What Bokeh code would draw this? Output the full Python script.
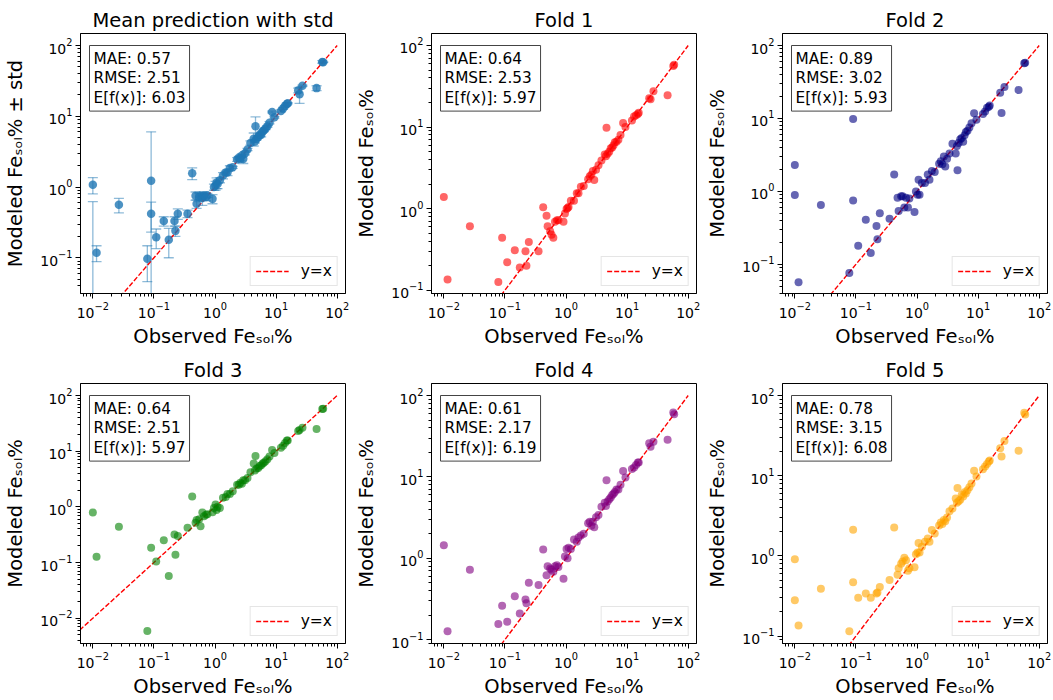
import numpy as np
from bokeh.plotting import figure
from bokeh.layouts import gridplot
from bokeh.models import (Range1d, Label, Whisker, TeeHead, ColumnDataSource,
                          FixedTicker, LogTickFormatter, Legend, LegendItem)
from bokeh.embed import file_html
from bokeh.resources import INLINE

FONT = "DejaVu Sans"
NA = float("nan")

# Observed Fe solubility (%) shared by every panel
observed = [
    0.010, 0.010, 0.0115, 0.0267, 0.078, 0.090, 0.090, 0.109, 0.145, 0.175,
    0.217, 0.225, 0.246, 0.355, 0.423, 0.48, 0.50,
    0.55, 0.58, 0.62, 0.66, 0.71, 0.75, 0.91, 0.96, 1.02, 1.06, 1.10, 1.20,
    1.35, 1.50, 1.60, 1.75, 1.95, 2.30, 2.45, 2.60, 2.75, 2.90, 3.10, 3.40,
    3.80, 4.30, 4.50, 4.60, 4.80, 5.10, 5.40, 5.70, 6.00, 6.30, 6.70, 7.20,
    7.80, 8.60, 9.40,
    12.0, 13.0, 14.0, 15.0, 15.5, 23.0, 24.2, 27.0, 46.0, 57.0, 59.0,
]

# Mean of the fold predictions and its standard deviation
mean_pred = [
    1.08, 0.02, 0.118, 0.56, 0.097, 1.23, 0.42, 0.195, 0.33, 0.18,
    0.33, 0.24, 0.42, 0.42, 1.57, 0.75, 0.58,
    0.72, 0.74, 0.70, 0.75, 0.72, 0.76, 0.68, 1.00, 1.05, 1.15, 1.10, 1.25,
    1.45, 1.60, 1.60, 1.85, 1.90, 2.45, 2.60, 2.50, 2.80, 2.50, 3.00, 3.40,
    4.20, 4.80, 4.40, 7.20, 4.80, 5.10, 5.50, 5.50, 6.10, 6.30, 6.70, 7.20,
    8.10, 11.5, 9.70,
    11.9, 12.9, 14.0, 14.9, 15.3, 23.2, 20.4, 27.0, 25.0, 58.6, 58.2,
]
std_pred = [
    0.28, 0.60, 0.03, 0.13, 0.051, 4.80, 0.19, 0.06, 0.05, 0.08,
    0.05, 0.04, 0.07, 0.05, 0.30, 0.10, 0.08,
    0.10, 0.08, 0.15, 0.10, 0.08, 0.05, 0.10, 0.10, 0.15, 0.20, 0.15, 0.10,
    0.15, 0.08, 0.15, 0.15, 0.06, 0.15, 0.12, 0.15, 0.15, 0.35, 0.15, 0.12,
    0.30, 1.00, 0.20, 2.60, 0.15, 0.15, 0.20, 0.40, 0.15, 0.25, 0.20, 0.20,
    0.30, 0.30, 0.30,
    0.40, 0.40, 0.30, 0.50, 0.30, 1.80, 5.20, 0.50, 2.00, 2.40, 0.50,
]

# Per-fold predictions (NaN where a fold has no prediction for the sample)
fold_1 = [
    1.39, NA, 0.135, 0.61, 0.126, 0.44, NA, 0.22, 0.31, 0.19,
    0.30, 0.20, 0.39, 0.30, 1.04, 0.82, 0.61,
    0.53, 0.48, 0.44, 0.69, 0.72, 0.72, 0.69, 0.87, 0.99, 1.02, 1.05, 1.25,
    1.25, 1.55, 1.55, 1.85, 1.90, 2.30, 2.50, 2.60, 2.90, 2.25, 3.00, 3.40,
    3.90, 4.60, 4.40, 9.80, 4.70, 5.00, 5.50, 5.60, 6.00, 6.50, 6.60, 7.00,
    8.00, 11.2, 10.0,
    12.0, 13.5, 14.0, 14.5, 15.0, 22.5, 22.0, 27.5, 24.6, 56.0, 58.0,
]
fold_2 = [
    2.30, 0.89, 0.057, 0.65, 0.076, 9.80, 0.75, 0.18, 0.41, 0.143,
    0.336, 0.22, 0.50, 0.42, 1.71, 0.82, 0.54,
    0.86, 0.86, 0.60, 0.82, 0.60, 0.80, 0.52, 1.00, 0.90, 1.44, 0.90, 1.30,
    1.30, 1.70, 1.45, 1.90, 1.85, 2.40, 2.60, 2.35, 3.00, 2.20, 2.80, 3.30,
    4.50, 3.30, 4.20, 1.95, 4.60, 5.20, 5.40, 4.80, 5.90, 6.50, 6.80, 7.50,
    8.60, 11.8, 9.60,
    11.5, 12.5, 14.0, 14.5, 15.0, 22.5, 11.9, 27.0, 24.5, 57.0, 58.0,
]
fold_3 = [
    0.79, NA, 0.127, 0.44, 0.0059, 0.185, NA, 0.104, 0.25, 0.057,
    0.32, 0.138, 0.30, 0.42, 1.53, 0.52, 0.58,
    0.60, 0.45, 0.79, 0.68, 0.72, 0.74, 0.80, 0.95, 1.10, 0.88, 1.00, 0.95,
    1.45, 1.50, 1.70, 1.70, 1.90, 2.50, 2.50, 2.70, 2.60, 3.00, 3.00, 3.30,
    4.20, 6.00, 4.50, 8.20, 4.90, 5.00, 5.40, 5.60, 6.00, 6.20, 6.60, 7.20,
    8.00, 10.5, 9.30,
    11.5, 12.5, 14.0, 15.5, 15.5, 23.0, 24.0, 26.5, 25.0, 57.0, 58.0,
]
fold_4 = [
    1.44, NA, 0.127, 0.72, 0.155, 0.26, NA, 0.166, 0.34, 0.21,
    0.31, 0.28, 0.50, 0.47, 1.28, 0.62, 0.80,
    0.75, 0.72, 0.68, 0.80, 0.82, 0.78, 0.56, 1.05, 1.30, 1.00, 1.35, 1.30,
    1.70, 1.60, 1.80, 1.90, 2.00, 2.70, 2.80, 2.50, 2.80, 2.40, 3.20, 3.40,
    4.30, 4.80, 4.40, 9.10, 5.00, 5.30, 5.60, 6.00, 6.20, 6.50, 7.00, 7.00,
    8.00, 11.8, 9.80,
    12.5, 13.0, 14.0, 15.0, 15.0, 26.0, 23.5, 27.0, 28.6, 62.0, 59.0,
]
fold_5 = [
    0.91, 0.28, 0.135, 0.39, 0.115, 2.12, 0.47, 0.30, 0.34, 0.30,
    0.34, 0.35, 0.41, 0.50, 2.26, 0.58, 0.70,
    0.80, 0.85, 0.95, 0.88, 0.65, 0.70, 0.72, 1.05, 1.10, 1.45, 1.10, 1.30,
    1.50, 1.65, 1.50, 2.10, 1.90, 2.40, 2.60, 2.50, 2.80, 2.70, 3.00, 3.60,
    3.90, 5.20, 4.60, 7.00, 4.80, 5.00, 5.80, 5.50, 6.20, 6.00, 6.60, 7.20,
    8.00, 11.5, 9.80,
    12.0, 13.0, 14.0, 15.0, 15.5, 22.0, 17.3, 27.0, 20.5, 61.0, 58.0,
]

panel_titles = ["Mean prediction with std", "Fold 1", "Fold 2",
                "Fold 3", "Fold 4", "Fold 5"]
mae = [0.57, 0.64, 0.89, 0.64, 0.61, 0.78]
rmse = [2.51, 2.53, 3.02, 2.51, 2.17, 3.15]
expected_fx = [6.03, 5.97, 5.93, 5.97, 6.19, 6.08]

identity_line = [0.005, 100.0]

x_label = "Observed Feₛₒₗ%"
y_labels = ["Modeled Feₛₒₗ% ± std"] + ["Modeled Feₛₒₗ%"] * 5

# axis extents (log10)
x_extent = (-2.202, 2.136)
y_extents = [(-1.505, 2.170), (-1.040, 2.147), (-1.400, 2.165),
             (-2.455, 2.216), (-1.048, 2.148), (-1.093, 2.150)]

colors = ["#1f77b4", "red", "navy", "green", "purple", "orange"]
alphas = [0.8, 0.6, 0.6, 0.6, 0.6, 0.6]

major_ticks = [10.0 ** k for k in range(-3, 3)]
minor_ticks = [m * 10.0 ** k for k in range(-3, 3) for m in range(2, 10)]


def make_panel(i, preds):
    y_lo, y_hi = y_extents[i]
    p = figure(width=351, height=350,
               x_axis_type="log", y_axis_type="log",
               x_range=Range1d(10 ** x_extent[0], 10 ** x_extent[1]),
               y_range=Range1d(10 ** y_lo, 10 ** y_hi),
               output_backend="svg", toolbar_location=None,
               min_border_left=80, min_border_right=6,
               min_border_top=33, min_border_bottom=50,
               title=panel_titles[i])
    p.background_fill_color = "white"
    p.border_fill_color = "white"
    p.outline_line_color = "black"
    p.outline_line_alpha = 1.0
    p.outline_line_width = 1
    p.xgrid.visible = False
    p.ygrid.visible = False

    p.title.align = "center"
    p.title.text_font = FONT
    p.title.text_font_size = "19.5px"
    p.title.text_font_style = "normal"
    p.title.text_color = "black"
    p.title.standoff = 3

    for ax in (p.xaxis[0], p.yaxis[0]):
        ax.ticker = FixedTicker(ticks=major_ticks, minor_ticks=minor_ticks)
        ax.formatter = LogTickFormatter()
        ax.axis_line_color = "black"
        ax.major_tick_line_color = "black"
        ax.minor_tick_line_color = "black"
        ax.major_tick_out = 5
        ax.major_tick_in = 0
        ax.minor_tick_out = 3
        ax.minor_tick_in = 0
        ax.major_label_text_font = FONT
        ax.major_label_text_font_size = "14px"
        ax.major_label_text_color = "black"
        ax.axis_label_text_font = FONT
        ax.axis_label_text_font_size = "19.5px"
        ax.axis_label_text_font_style = "normal"
        ax.axis_label_text_color = "black"
        ax.major_label_standoff = 3
    p.xaxis.axis_label = x_label
    p.yaxis.axis_label = y_labels[i]
    p.xaxis.axis_label_standoff = 4
    p.yaxis.axis_label_standoff = 10

    line = p.line(identity_line, identity_line, line_color="red",
                  line_dash="5 2", line_width=1.4)

    if i == 0:
        mean = np.array(preds[0])
        std = np.array(preds[1])
        src = ColumnDataSource(dict(
            x=observed, y=mean,
            upper=mean + std,
            lower=np.maximum(mean - std, 1e-6),
        ))
        head = dict(size=10, line_color=colors[0], line_alpha=0.5,
                    line_width=1.3)
        p.add_layout(Whisker(
            source=src, base="x", upper="upper", lower="lower",
            dimension="height",
            line_color=colors[0], line_alpha=0.5, line_width=1.3,
            upper_head=TeeHead(**head), lower_head=TeeHead(**head),
        ))
        p.scatter("x", "y", source=src, size=8.5, fill_color=colors[0],
                  line_color=None, fill_alpha=alphas[0])
    else:
        p.scatter(observed, preds, size=8, fill_color=colors[i],
                  line_color=None, fill_alpha=alphas[i])

    legend = Legend(items=[LegendItem(label="y=x", renderers=[line])],
                    location="bottom_right")
    legend.label_text_font = FONT
    legend.label_text_font_size = "15.5px"
    legend.label_text_color = "black"
    legend.border_line_color = "#cccccc"
    legend.border_line_width = 1
    legend.background_fill_color = "white"
    legend.background_fill_alpha = 0.8
    legend.glyph_width = 33
    legend.glyph_height = 16
    legend.label_height = 16
    legend.label_standoff = 12
    legend.padding = 5
    legend.margin = 7
    legend.spacing = 0
    p.add_layout(legend, "center")

    stats = Label(
        x=10 ** x_extent[0], y=10 ** y_hi, x_offset=9, y_offset=-12,
        anchor="top_left",
        text=f"MAE: {mae[i]:.2f}\nRMSE: {rmse[i]:.2f}\nE[f(x)]: {expected_fx[i]:.2f}",
        text_font=FONT, text_font_size="15.3px", text_color="black",
        text_line_height=1.1,
        padding=4,
        border_line_color="#444444", border_line_width=1,
        background_fill_color="white", background_fill_alpha=1.0,
    )
    p.add_layout(stats)
    return p


series = [(mean_pred, std_pred), fold_1, fold_2, fold_3, fold_4, fold_5]
panels = [make_panel(i, s) for i, s in enumerate(series)]

grid = gridplot([panels[:3], panels[3:]], toolbar_location=None)

with open("out.html", "w") as f:
    f.write(file_html(grid, INLINE))
